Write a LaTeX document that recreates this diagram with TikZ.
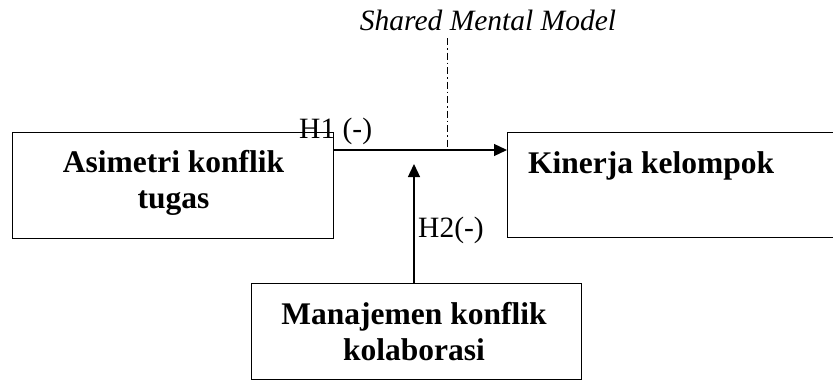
\documentclass[tikz,border=0pt]{standalone}
\usepackage{fontspec}
\setmainfont{Liberation Serif}
\usetikzlibrary{arrows.meta}
\begin{document}
\begin{tikzpicture}[x=1pt,y=-1pt,
  box/.style={draw,line width=1.3pt,inner sep=0pt},
  btext/.style={font=\fontsize{31.5}{35.5}\selectfont\bfseries,align=center,inner sep=0pt},
  lbl/.style={font=\fontsize{29.5}{33}\selectfont,inner sep=0pt},
  conn/.style={line width=1.3pt,-{Triangle[length=13pt,width=12pt]}}]
\useasboundingbox (0,0) rectangle (833,380);
\node[box,minimum width=321pt,minimum height=106pt,anchor=north west] (left) at (12,132) {};
\node[box,minimum width=340pt,minimum height=105pt,anchor=north west] (right) at (507,132) {};
\node[box,minimum width=330pt,minimum height=96pt,anchor=north west] (bottom) at (251,283) {};
\node[btext,anchor=base] (lefttext) at (173.5,208) {Asimetri konflik\\tugas};
\node[btext,anchor=base west] (righttext) at (528,173) {Kinerja kelompok};
\node[btext,anchor=base] (bottomtext) at (414,360) {Manajemen konflik\\kolaborasi};
\coordinate (h1start) at (left.east |- 0,150);
\coordinate (h1end) at (right.west |- 0,150);
\coordinate (vtop) at (414,164);
\draw[conn] (h1start) -- (h1end);
\draw[conn] (bottom.north -| vtop) -- (vtop);
\coordinate (smmtop) at (447,38);
\coordinate (smmbot) at (447,150);
\draw[line width=1pt,dash pattern=on 7pt off 3pt on 1.5pt off 3pt] (smmtop) -- (smmbot);
\node[lbl,font=\fontsize{29.5}{33}\selectfont\itshape,anchor=base] (smm) at (488,30) {Shared Mental Model};
\node[lbl,anchor=base west] (h1) at (299,138) {H1 (-)};
\node[lbl,anchor=base west] (h2) at (418,237) {H2(-)};
\end{tikzpicture}
\end{document}
